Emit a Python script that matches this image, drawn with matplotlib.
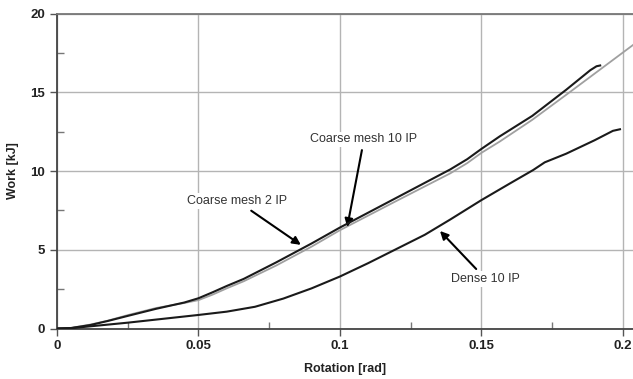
import matplotlib
matplotlib.use("Agg")
import matplotlib.pyplot as plt
from matplotlib.ticker import MultipleLocator

plt.rcParams['font.family'] = ['Liberation Sans', 'DejaVu Sans']

# Coarse mesh 10 IP (black, upper)
coarse10_x = [0, 0.005, 0.0118, 0.018, 0.025, 0.035, 0.045, 0.05, 0.055, 0.06, 0.066,
              0.0775, 0.09, 0.1, 0.12, 0.139, 0.145, 0.15, 0.1565, 0.168, 0.18,
              0.1885, 0.1907, 0.192]
coarse10_y = [0, 0.03, 0.22, 0.48, 0.8, 1.25, 1.65, 1.92, 2.3, 2.7, 3.15,
              4.2, 5.4, 6.41, 8.3, 10.1, 10.75, 11.4, 12.2, 13.5, 15.16,
              16.4, 16.65, 16.7]

# Coarse mesh 2 IP (gray)
coarse2_x = [0, 0.005, 0.0118, 0.018, 0.025, 0.035, 0.045, 0.05, 0.055, 0.06, 0.066,
             0.0775, 0.09, 0.1, 0.12, 0.139, 0.145, 0.15, 0.1565, 0.168, 0.18, 0.2036]
coarse2_y = [0, 0.04, 0.25, 0.5, 0.85, 1.3, 1.62, 1.8, 2.15, 2.55, 3.0,
             4.0, 5.2, 6.24, 8.1, 9.85, 10.5, 11.15, 11.87, 13.25, 14.84, 18.0]

# Dense 10 IP (black, lower)
dense_x = [0, 0.005, 0.025, 0.05, 0.06, 0.07, 0.08, 0.09, 0.1, 0.11, 0.12, 0.13,
           0.139, 0.15, 0.16, 0.1683, 0.1724, 0.18, 0.19, 0.1965, 0.199]
dense_y = [0, 0.02, 0.37, 0.86, 1.07, 1.38, 1.9, 2.55, 3.3, 4.15, 5.05, 5.95,
           6.92, 8.15, 9.2, 10.06, 10.55, 11.1, 11.95, 12.55, 12.65]

x_ticks = [0, 0.05, 0.1, 0.15, 0.2]
x_tick_labels = ['0', '0.05', '0.1', '0.15', '0.2']
y_ticks = [0, 5, 10, 15, 20]

fig = plt.figure(figsize=(6.33, 3.79), dpi=100)
ax = fig.add_axes([57/633, 1-328.5/379, 1-57/633, (328.5-13.5)/379])

ax.plot(coarse2_x, coarse2_y, color='#a0a0a0', lw=1.3, zorder=3)
ax.plot(coarse10_x, coarse10_y, color='#1a1a1a', lw=1.5, zorder=4)
ax.plot(dense_x, dense_y, color='#1a1a1a', lw=1.5, zorder=4)

ax.set_xlim(0, 0.2036)
ax.set_ylim(0, 20)
ax.set_xticks(x_ticks)
ax.set_xticklabels(x_tick_labels)
ax.set_yticks(y_ticks)
ax.xaxis.set_minor_locator(MultipleLocator(0.025))
ax.yaxis.set_minor_locator(MultipleLocator(2.5))
ax.grid(True, which='major', color='#b4b4b4', lw=1.0)
ax.set_axisbelow(True)

ax.tick_params(which='major', direction='out', length=5, width=1, color='#555555',
               labelsize=9.5)
ax.tick_params(which='minor', direction='in', length=5, width=1, color='#777777')
for lbl in ax.get_xticklabels() + ax.get_yticklabels():
    lbl.set_fontweight('bold')
    lbl.set_color('#222222')

for s in ['left', 'bottom']:
    ax.spines[s].set_color('#444444')
    ax.spines[s].set_linewidth(1.3)
ax.spines['top'].set_color('#777777')
ax.spines['top'].set_linewidth(1.3)
ax.spines['right'].set_visible(False)

ax.set_xlabel('Rotation [rad]', fontsize=9, fontweight='bold', color='#222222', labelpad=8)
ax.set_ylabel('Work [kJ]', fontsize=9, fontweight='bold', color='#222222', labelpad=8)

arrow = dict(arrowstyle='-|>', color='black', lw=1.5, mutation_scale=12)
ax.annotate('Coarse mesh 10 IP', xy=(0.1024, 6.27), xytext=(0.1085, 12.0),
            ha='center', va='center', fontsize=9, color='#333333',
            arrowprops=arrow,
            bbox=dict(boxstyle='square,pad=0.15', fc='white', ec='none'))
ax.annotate('Coarse mesh 2 IP', xy=(0.087, 5.21), xytext=(0.0638, 8.08),
            ha='center', va='center', fontsize=9, color='#333333',
            arrowprops=arrow,
            bbox=dict(boxstyle='square,pad=0.15', fc='white', ec='none'))
ax.annotate('Dense 10 IP', xy=(0.1347, 6.32), xytext=(0.1515, 3.15),
            ha='center', va='center', fontsize=9, color='#333333',
            arrowprops=arrow,
            bbox=dict(boxstyle='square,pad=0.15', fc='white', ec='none'))

fig.savefig('out.png', dpi=100)
